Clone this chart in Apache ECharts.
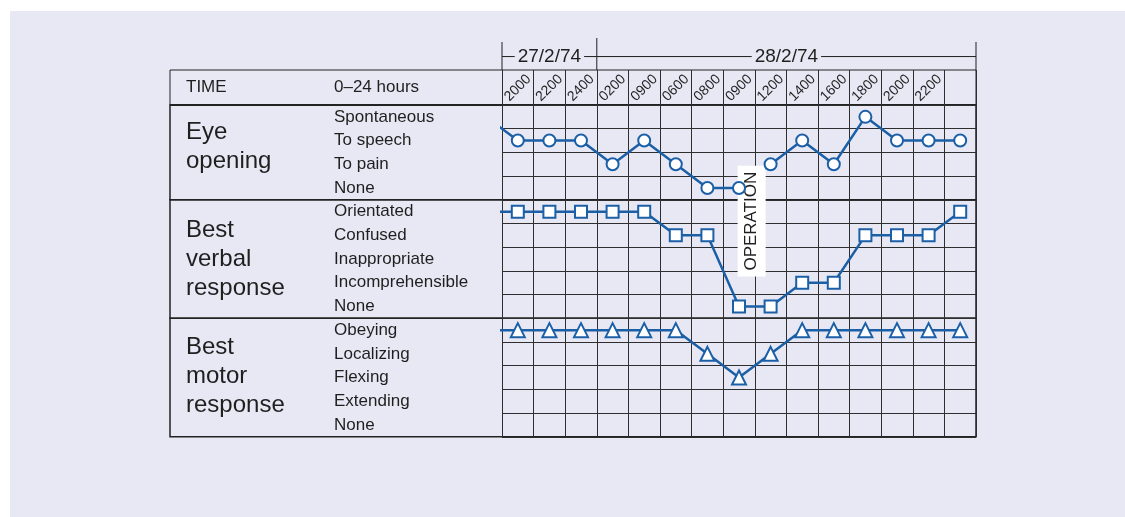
<!DOCTYPE html>
<html lang="en">
<head>
    <meta charset="UTF-8">
    <title>Coma chart</title>
    <script src="https://cdn.jsdelivr.net/npm/echarts@6/dist/echarts.min.js"></script>
    <style>
        html, body { margin: 0; padding: 0; background: #fff; }
        #panel { position: absolute; left: 10px; top: 11px; right: 0; bottom: 0; background: #e8e8f4; }
        #main { position: absolute; left: 0; top: 0; width: 1125px; height: 517px; }
    </style>
</head>
<body>
<div id="panel"></div>
<div id="main"></div>
<script>
    // column headings (last column has no time written in)
    var timeLabels = ['2000', '2200', '2400', '0200', '0900', '0600', '0800', '0900', '1200', '1400', '1600', '1800', '2000', '2200', ''];
    // date, first column, end column
    var dateSpans = [['27/2/74', 0, 3], ['28/2/74', 3, 15]];

    var eyeLevels = ['Spontaneous', 'To speech', 'To pain', 'None'];
    var verbalLevels = ['Orientated', 'Confused', 'Inappropriate', 'Incomprehensible', 'None'];
    var motorLevels = ['Obeying', 'Localizing', 'Flexing', 'Extending', 'None'];

    // reading taken before the first column, the line comes in from the left edge
    var eyePrev = 'Spontaneous';
    var verbalPrev = 'Orientated';
    var motorPrev = 'Obeying';

    var eyeScores = ['To speech', 'To speech', 'To speech', 'To pain', 'To speech', 'To pain', 'None', 'None',
        'To pain', 'To speech', 'To pain', 'Spontaneous', 'To speech', 'To speech', 'To speech'];
    var verbalScores = ['Orientated', 'Orientated', 'Orientated', 'Orientated', 'Orientated', 'Confused', 'Confused', 'None',
        'None', 'Incomprehensible', 'Incomprehensible', 'Confused', 'Confused', 'Confused', 'Orientated'];
    var motorScores = ['Obeying', 'Obeying', 'Obeying', 'Obeying', 'Obeying', 'Obeying', 'Localizing', 'Flexing',
        'Localizing', 'Obeying', 'Obeying', 'Obeying', 'Obeying', 'Obeying', 'Obeying'];

    var operationNote = {text: 'OPERATION', col: 7.9, row: 4.9};

    var ink = '#1f1f1f';
    var gridInk = '#2e2e2e';
    var blue = '#1b5fa6';
    var panelBg = '#e8e8f4';
    var font = '"Liberation Sans", Arial, sans-serif';

    var L = 502, W = 474, ROW = 23.7;
    var tops = {head: 70, eye: 105, verbal: 105 + 4 * ROW, motor: 105 + 9 * ROW, bottom: 105 + 14 * ROW};

    var myChart = echarts.init(document.getElementById('main'));

    function toPoints(prev, scores, levels) {
        var pts = [[-0.5, levels.indexOf(prev)]];
        for (var i = 0; i < scores.length; i++) {
            pts.push([i + 0.5, levels.indexOf(scores[i])]);
        }
        return pts;
    }

    var grids = [], xAxes = [], yAxes = [], series = [], titles = [];

    function addGrid(g) {
        g.outerBoundsMode = 'none';
        g.containLabel = false;
        grids.push(g);
        return grids.length - 1;
    }

    function hiddenAxes(gi, xmax, ymax, yinv) {
        xAxes.push({gridIndex: gi, type: 'value', min: 0, max: xmax, show: false});
        yAxes.push({gridIndex: gi, type: 'value', min: 0, max: ymax, inverse: !!yinv, show: false});
    }

    // dates above the header
    var gDate = addGrid({left: L, top: 38, width: W, height: 32});
    hiddenAxes(gDate, 15, 1);

    // header row with the times
    var gHead = addGrid({left: L, top: tops.head, width: W, height: tops.eye - tops.head});
    xAxes.push({
        gridIndex: gHead, type: 'category', data: timeLabels, boundaryGap: true, position: 'bottom',
        axisLine: {show: false}, axisTick: {show: false},
        axisLabel: {
            interval: 0, inside: true, rotate: 45, align: 'center', verticalAlign: 'middle', margin: 17,
            fontSize: 14, fontFamily: font, color: ink
        },
        splitLine: {show: true, interval: 0, lineStyle: {color: gridInk, width: 1}}
    });
    yAxes.push({
        gridIndex: gHead, type: 'category', data: ['0–24 hours'],
        axisLine: {show: false}, axisTick: {show: false},
        axisLabel: {align: 'left', margin: L - 334, fontSize: 17, fontFamily: font, color: ink, padding: [4, 0, 0, 0]},
        name: 'TIME', nameLocation: 'middle', nameRotate: 0, nameGap: L - 186, nameMoveOverlap: false,
        nameTextStyle: {align: 'left', verticalAlign: 'middle', fontSize: 17, fontFamily: font, color: ink, padding: [5, 0, 0, 0]}
    });

    function addSection(title, titleTop, levels, top, prev, scores, symbol, symbolSize) {
        var gi = addGrid({left: L, top: top, width: W, height: levels.length * ROW});
        xAxes.push({
            gridIndex: gi, type: 'value', min: 0, max: 15, interval: 1,
            axisLine: {show: false}, axisTick: {show: false}, axisLabel: {show: false},
            splitLine: {show: true, lineStyle: {color: gridInk, width: 1}}
        });
        yAxes.push({
            gridIndex: gi, type: 'category', data: levels, inverse: true, boundaryGap: true,
            axisLine: {show: false}, axisTick: {show: false},
            axisLabel: {interval: 0, align: 'left', margin: L - 334, fontSize: 17, fontFamily: font, color: ink},
            splitLine: {show: true, interval: 0, lineStyle: {color: gridInk, width: 1}}
        });
        titles.push({
            text: title, left: 186, top: titleTop, padding: 0,
            textStyle: {fontSize: 24, lineHeight: 29, fontWeight: 'normal', fontFamily: font, color: ink}
        });
        var axisIdx = xAxes.length - 1;
        var pts = toPoints(prev, scores, levels);
        series.push({
            type: 'line', xAxisIndex: axisIdx, yAxisIndex: axisIdx, data: pts, clip: true,
            showSymbol: false, symbol: 'none', z: 2,
            lineStyle: {color: blue, width: 2.5}
        });
        series.push({
            type: 'scatter', xAxisIndex: axisIdx, yAxisIndex: axisIdx, data: pts.slice(1), z: 4,
            symbol: symbol, symbolSize: symbolSize,
            itemStyle: {color: '#fff', borderColor: blue, borderWidth: 2, opacity: 1}
        });
    }

    addSection('Eye\nopening', 118, eyeLevels, tops.eye, eyePrev, eyeScores, 'circle', 12);
    addSection('Best\nverbal\nresponse', 216, verbalLevels, tops.verbal, verbalPrev, verbalScores, 'rect', 12);
    addSection('Best\nmotor\nresponse', 333, motorLevels, tops.motor, motorPrev, motorScores, 'triangle', 14);

    // overlay over the whole data area, for the operation note
    var gOver = addGrid({left: L, top: tops.eye, width: W, height: tops.bottom - tops.eye});
    hiddenAxes(gOver, 15, 14, true);

    // table outlines
    var boxes = [[tops.head, tops.eye, 1], [tops.eye, tops.verbal, 1.5], [tops.verbal, tops.motor, 1.5],
        [tops.motor, tops.bottom, 1.5], [tops.eye, tops.eye, 2]];
    boxes.forEach(function (b) {
        var gi = addGrid({left: 170, top: b[0], width: L + W - 170, height: b[1] - b[0], show: true,
            borderColor: '#222', borderWidth: b[2], backgroundColor: 'transparent'});
        hiddenAxes(gi, 1, 1);
    });

    // date brackets
    series.push({
        type: 'custom', xAxisIndex: gDate, yAxisIndex: gDate, z: 3,
        data: dateSpans.map(function (d) { return [d[1], d[2]]; }),
        renderItem: function (params, api) {
            var i = params.dataIndex;
            var x0 = api.coord([api.value(0), 0])[0];
            var x1 = api.coord([api.value(1), 0])[0];
            var yTop = api.coord([0, 1])[1];
            var yBot = api.coord([0, 0])[1];
            var yMid = api.coord([0, 0.42])[1];
            var line = {stroke: ink, lineWidth: 1};
            var kids = [
                {type: 'line', shape: {x1: x0, y1: yMid, x2: x1, y2: yMid}, style: line},
                {type: 'line', shape: {x1: x0, y1: i === 0 ? yTop + 4 : yTop, x2: x0, y2: yBot}, style: line},
                {
                    type: 'text', x: (x0 + x1) / 2, y: yMid, z2: 5,
                    style: {
                        text: dateSpans[i][0], fill: ink, fontSize: 19, fontFamily: font,
                        align: 'center', verticalAlign: 'middle', backgroundColor: panelBg, padding: [0, 3]
                    }
                }
            ];
            if (i === dateSpans.length - 1) {
                kids.push({type: 'line', shape: {x1: x1, y1: yTop + 4, x2: x1, y2: yBot}, style: line});
            }
            return {type: 'group', children: kids};
        }
    });

    // operation note, drawn over the lines but under the markers
    series.push({
        type: 'custom', xAxisIndex: gOver, yAxisIndex: gOver, z: 3,
        data: [[operationNote.col, operationNote.row]],
        renderItem: function (params, api) {
            var p = api.coord([api.value(0), api.value(1)]);
            return {
                type: 'text', x: p[0], y: p[1], rotation: Math.PI / 2,
                style: {
                    text: operationNote.text, fill: ink, fontSize: 17, fontFamily: font,
                    align: 'center', verticalAlign: 'middle', backgroundColor: '#fff', padding: [6, 6, 5, 6]
                }
            };
        }
    });

    var option = {
        animation: false,
        title: titles,
        grid: grids,
        xAxis: xAxes,
        yAxis: yAxes,
        series: series
    };

    option && myChart.setOption(option);
</script>
</body>
</html>
